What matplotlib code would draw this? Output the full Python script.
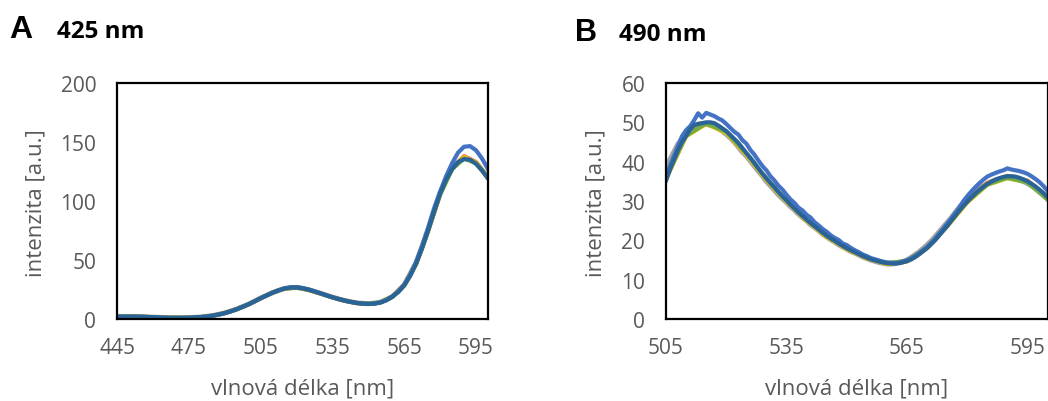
import matplotlib
matplotlib.use("Agg")
import matplotlib.pyplot as plt

# ---------------- Panel A (excitation 425 nm) ----------------
a_wl_fine = [445 + 2.5 * i for i in range(63)]
a_dark = [2.0, 2.0, 2.0, 2.0, 1.9, 1.7, 1.5, 1.3, 1.1, 1.0, 1.0, 1.0, 1.1, 1.3, 1.6, 2.1,
          2.8, 3.8, 5.0, 6.5, 8.3, 10.3, 12.5, 15.0, 17.6, 20.0, 22.3, 24.3, 25.8, 26.6,
          26.7, 26.0, 24.8, 23.3, 21.7, 20.0, 18.4, 16.9, 15.6, 14.5, 13.6, 13.0, 12.8,
          13.0, 14.0, 15.8, 18.8, 22.8, 28.5, 36.5, 47.0, 60.0, 75.0, 91.0, 106.0, 118.0,
          127.0, 133.0, 135.5, 135.0, 131.5, 126.0, 119.0]
a_blue = [2.0, 2.0, 2.0, 2.0, 1.9, 1.7, 1.5, 1.3, 1.1, 1.0, 1.0, 1.0, 1.1, 1.3, 1.6, 2.1,
          2.8, 3.8, 5.0, 6.5, 8.3, 10.3, 12.5, 15.0, 17.6, 20.0, 22.3, 24.4, 26.0, 26.9,
          27.0, 26.3, 25.0, 23.5, 21.8, 20.1, 18.5, 17.0, 15.7, 14.6, 13.7, 13.1, 12.9,
          13.1, 14.1, 16.0, 19.0, 23.2, 29.0, 37.5, 48.5, 62.0, 77.5, 94.0, 108.0, 121.0,
          132.0, 141.0, 146.0, 146.5, 143.0, 136.0, 127.0]

a_wl = [445 + 5 * i for i in range(32)]
a_orange = [2.0, 2.0, 1.9, 1.5, 1.1, 1.0, 1.1, 1.6, 2.8, 5.0, 8.3, 12.5, 17.6, 22.3, 25.8,
            26.7, 24.8, 21.7, 18.4, 15.6, 13.6, 12.8, 14.0, 18.8, 28.5, 47.0, 75.0, 106.0,
            128.0, 138.0, 133.0, 120.0]
a_grey = [2.2, 2.1, 2.0, 1.6, 1.2, 1.1, 1.2, 1.7, 2.9, 5.1, 8.4, 12.6, 17.7, 22.4, 25.9,
          26.8, 24.9, 21.8, 18.5, 15.7, 13.7, 12.9, 14.1, 19.0, 29.0, 48.0, 76.0, 107.0,
          128.0, 137.0, 132.5, 120.0]
a_yellow = [2.0, 2.0, 1.9, 1.5, 1.1, 1.0, 1.1, 1.6, 2.8, 5.0, 8.3, 12.5, 17.6, 22.3, 25.8,
            26.6, 24.7, 21.6, 18.3, 15.5, 13.5, 12.7, 13.9, 18.7, 28.3, 46.5, 74.5, 105.5,
            127.5, 137.0, 132.5, 119.5]
a_green = [2.0, 2.0, 1.9, 1.5, 1.1, 1.0, 1.1, 1.6, 2.8, 5.0, 8.3, 12.5, 17.6, 22.3, 25.8,
           26.7, 24.8, 21.7, 18.4, 15.6, 13.6, 12.8, 14.0, 18.8, 28.5, 47.0, 75.0, 105.5,
           127.0, 136.0, 132.0, 119.5]

# ---------------- Panel B (excitation 490 nm) ----------------
b_wl_fine = list(range(505, 601))
b_dark = [35.2, 38.0, 40.5, 43.0, 45.0, 46.5, 48.2, 49.3, 49.6, 49.8, 50.0, 50.0, 49.8, 49.2,
          48.5, 47.8, 46.8, 45.8, 44.8, 43.5, 42.2, 41.0, 39.7, 38.3, 37.0, 35.8, 34.6, 33.5,
          32.3, 31.2, 30.2, 29.1, 28.1, 27.1, 26.2, 25.3, 24.4, 23.6, 22.8, 22.0, 21.2, 20.5,
          19.9, 19.2, 18.6, 18.0, 17.5, 17.0, 16.5, 16.0, 15.6, 15.2, 14.9, 14.6, 14.4, 14.2,
          14.1, 14.1, 14.2, 14.4, 14.7, 15.1, 15.7, 16.4, 17.2, 18.0, 19.0, 20.0, 21.2, 22.4,
          23.6, 24.9, 26.2, 27.5, 28.7, 29.8, 30.9, 31.9, 32.8, 33.6, 34.3, 34.9, 35.4, 35.8,
          36.1, 36.3, 36.3, 36.2, 35.9, 35.5, 35.0, 34.4, 33.7, 32.9, 32.0, 31.0]
b_blue = [35.5, 39.0, 41.5, 44.0, 46.5, 48.0, 49.0, 50.5, 52.3, 51.2, 52.4, 52.0, 51.6, 51.0,
          50.5, 49.6, 48.6, 47.6, 46.9, 45.5, 44.6, 43.0, 41.8, 40.3, 38.9, 37.8, 36.3, 35.2,
          33.9, 32.9, 31.6, 30.4, 29.5, 28.3, 27.6, 26.5, 25.8, 24.6, 23.8, 22.9, 22.2, 21.3,
          20.6, 20.1, 19.2, 18.8, 18.1, 17.5, 17.0, 16.4, 16.0, 15.5, 15.2, 14.9, 14.6, 14.4,
          14.3, 14.2, 14.3, 14.6, 14.9, 15.4, 16.0, 16.7, 17.5, 18.3, 19.3, 20.4, 21.7, 22.9,
          24.2, 25.5, 26.9, 28.3, 29.9, 31.2, 32.4, 33.5, 34.5, 35.4, 36.2, 36.7, 37.1, 37.5,
          37.8, 38.3, 38.0, 37.8, 37.6, 37.3, 36.9, 36.3, 35.6, 34.8, 33.8, 32.6]
b_grey = [37.5, 40.5, 42.5, 44.5, 45.8, 46.8, 48.0, 49.0, 49.5, 49.6, 49.5, 49.3, 49.0, 48.5,
          47.8, 47.0, 46.1, 45.0, 43.8, 42.5, 41.5, 40.2, 38.9, 37.6, 36.4, 35.0, 33.9, 32.8,
          31.6, 30.6, 29.7, 28.6, 27.7, 26.7, 25.8, 25.0, 24.0, 23.3, 22.5, 21.6, 20.9, 20.2,
          19.6, 18.9, 18.3, 17.8, 17.2, 16.8, 16.3, 15.8, 15.4, 15.0, 14.7, 14.4, 14.2, 14.0,
          14.0, 14.1, 14.3, 14.6, 15.0, 15.6, 16.3, 17.0, 17.9, 18.8, 19.8, 20.9, 22.1, 23.3,
          24.5, 25.7, 27.0, 28.3, 29.4, 30.4, 31.4, 32.3, 33.1, 33.8, 34.4, 34.9, 35.3, 35.6,
          35.8, 35.9, 35.9, 35.7, 35.4, 35.0, 34.5, 33.9, 33.2, 32.4, 31.5, 30.5]

b_wl = [505 + 5 * i for i in range(20)]
b_orange = [35.5, 46.7, 49.8, 47.5, 42.0, 35.5, 30.0, 25.1, 21.0, 17.9, 15.5, 14.1, 14.7,
            18.1, 23.8, 30.0, 34.6, 36.4, 35.2, 31.0]
b_yellow = [35.8, 46.4, 49.6, 47.3, 41.8, 35.4, 29.9, 25.0, 20.9, 17.8, 15.4, 14.0, 14.6,
            18.0, 23.5, 29.6, 34.1, 35.8, 34.8, 30.8]
b_green = [36.0, 46.6, 49.7, 47.6, 42.1, 35.6, 30.1, 25.2, 21.1, 18.0, 15.6, 14.2, 14.8,
           18.2, 23.7, 29.8, 34.2, 35.9, 34.7, 30.4]

a_xticks = [445, 475, 505, 535, 565, 595]
a_yticks = [0, 50, 100, 150, 200]
b_xticks = [505, 535, 565, 595]
b_yticks = [0, 10, 20, 30, 40, 50, 60]

C_GREY = "#A5A5A5"
C_ORANGE = "#ED7D31"
C_YELLOW = "#FFC000"
C_GREEN = "#70AD47"
C_BLUE = "#4472C4"
C_DARK = "#2A6496"
TXT = "#595959"

plt.rcParams['font.family'] = ['Open Sans', 'DejaVu Sans']

W, H = 1048, 402
fig = plt.figure(figsize=(W / 100, H / 100), dpi=100)

axA = fig.add_axes([117 / W, (H - 320) / H, (488 - 117) / W, (320 - 84) / H])
axB = fig.add_axes([666 / W, (H - 320) / H, (1047.5 - 666) / W, (320 - 84) / H])

def style(ax, xlim, ylim, xt, yt, ylab_x_px, left_px, width_px):
    ax.set_xlim(*xlim)
    ax.set_ylim(*ylim)
    ax.set_xticks(xt)
    ax.set_yticks(yt)
    ax.tick_params(length=0, labelsize=15, colors=TXT)
    ax.tick_params(axis='y', pad=15)
    ax.tick_params(axis='x', pad=13)
    for s in ax.spines.values():
        s.set_color("black")
        s.set_linewidth(1.6)
    ax.set_xlabel("vlnová délka [nm]", fontsize=16, color=TXT, va='center')
    ax.set_ylabel("intenzita [a.u.]", fontsize=16, color=TXT, va='center')
    ax.xaxis.set_label_coords(0.5, (320 - 389) / 236)
    ax.yaxis.set_label_coords((ylab_x_px - left_px) / width_px, (320 - 203) / 236)

lw = 3.0
axA.plot(a_wl, a_grey, color=C_GREY, lw=3.6)
axA.plot(a_wl, a_orange, color=C_ORANGE, lw=lw)
axA.plot(a_wl, a_yellow, color=C_YELLOW, lw=lw)
axA.plot(a_wl, a_green, color=C_GREEN, lw=lw)
axA.plot(a_wl_fine, a_blue, color=C_BLUE, lw=lw)
axA.plot(a_wl_fine, a_dark, color=C_DARK, lw=lw)
style(axA, (445, 600), (0, 200), a_xticks, a_yticks, 36, 117, 371)

axB.plot(b_wl_fine, b_grey, color=C_GREY, lw=3.8)
axB.plot(b_wl, b_orange, color=C_ORANGE, lw=lw)
axB.plot(b_wl, b_yellow, color=C_YELLOW, lw=lw)
axB.plot(b_wl, b_green, color=C_GREEN, lw=lw)
axB.plot(b_wl_fine, b_blue, color=C_BLUE, lw=lw)
axB.plot(b_wl_fine, b_dark, color=C_DARK, lw=lw)
style(axB, (505, 600), (0, 60), b_xticks, b_yticks, 596, 666, 381.5)

fig.text(9 / W, 1 - 38 / H, "A", fontsize=23, fontweight='bold', ha='left', va='baseline',
         family=['Liberation Sans', 'DejaVu Sans'])
fig.text(57 / W, 1 - 38 / H, "425 nm", fontsize=17.5, fontweight='bold', ha='left', va='baseline')
fig.text(575 / W, 1 - 41 / H, "B", fontsize=22, fontweight='bold', ha='left', va='baseline',
         family=['Liberation Sans', 'DejaVu Sans'])
fig.text(619 / W, 1 - 41 / H, "490 nm", fontsize=17.5, fontweight='bold', ha='left', va='baseline')

fig.savefig("out.png", dpi=100)
